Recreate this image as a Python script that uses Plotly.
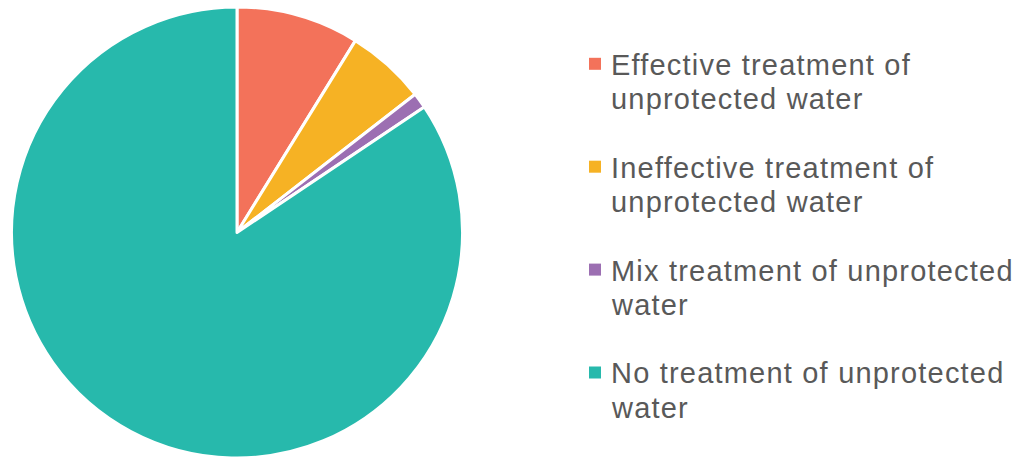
import plotly.graph_objects as go

# Share of households by treatment of unprotected water (%)
categories = [
    "Effective treatment of<br>unprotected water",
    "Ineffective treatment of<br>unprotected water",
    "Mix treatment of unprotected<br>water",
    "No treatment of unprotected<br>water",
]
shares = [8.8, 5.7, 1.1, 84.4]
colors = ["#F3725A", "#F6B224", "#9C6FB2", "#27B9AC"]

W, H = 1020, 458
TEXT_COLOR = "#595959"
FONT = "Liberation Sans, Arial, Helvetica, sans-serif"
FONT_SIZE = 29

fig = go.Figure(
    go.Pie(
        labels=[c.replace("<br>", " ") for c in categories],
        values=shares,
        sort=False,
        direction="clockwise",
        rotation=0,
        textinfo="none",
        hoverinfo="label+percent",
        marker=dict(colors=colors, line=dict(color="white", width=3)),
        domain=dict(x=[11.5 / W, 462.5 / W], y=[0, 451 / H]),
        showlegend=False,
    )
)

# Key on the right: colour square plus wrapped label, one block per slice
first_baseline = 74.3     # px from top, first line of first entry
entry_step = 102.9        # px between entries
line_step = 34.3          # px between wrapped lines
square_x, square_size = 589, 12
text_x = 610

annotations = []
shapes = []
for i, (label, col) in enumerate(zip(categories, colors)):
    base = first_baseline + i * entry_step
    cy = base - 10.5
    shapes.append(dict(
        type="rect", xref="paper", yref="paper",
        x0=square_x / W, x1=(square_x + square_size) / W,
        y0=(H - (cy + square_size / 2)) / H, y1=(H - (cy - square_size / 2)) / H,
        fillcolor=col, line=dict(width=0),
    ))
    for j, line in enumerate(label.split("<br>")):
        b = base + j * line_step
        mid = b - 0.33 * FONT_SIZE
        annotations.append(dict(
            text=line, xref="paper", yref="paper",
            x=text_x / W, y=(H - mid) / H,
            xanchor="left", yanchor="middle", align="left",
            showarrow=False, borderpad=0,
            font=dict(family=FONT, size=FONT_SIZE, color=TEXT_COLOR),
        ))

fig.update_layout(
    width=W,
    height=H,
    margin=dict(l=0, r=0, t=0, b=0),
    paper_bgcolor="white",
    plot_bgcolor="white",
    font=dict(family=FONT, color=TEXT_COLOR),
    annotations=annotations,
    shapes=shapes,
    showlegend=False,
)

# Slightly open tracking on the key labels, kept anchored at the left edge
spacing_js = (
    "document.querySelectorAll('.annotation-text').forEach("
    "function(t){t.style.letterSpacing='1.2px';"
    "t.setAttribute('text-anchor','start');"
    "var x=t.getAttribute('x');"
    "t.querySelectorAll('tspan.line').forEach(function(s){s.setAttribute('x',x);});});"
)

fig.write_html("out.html", post_script=spacing_js)
